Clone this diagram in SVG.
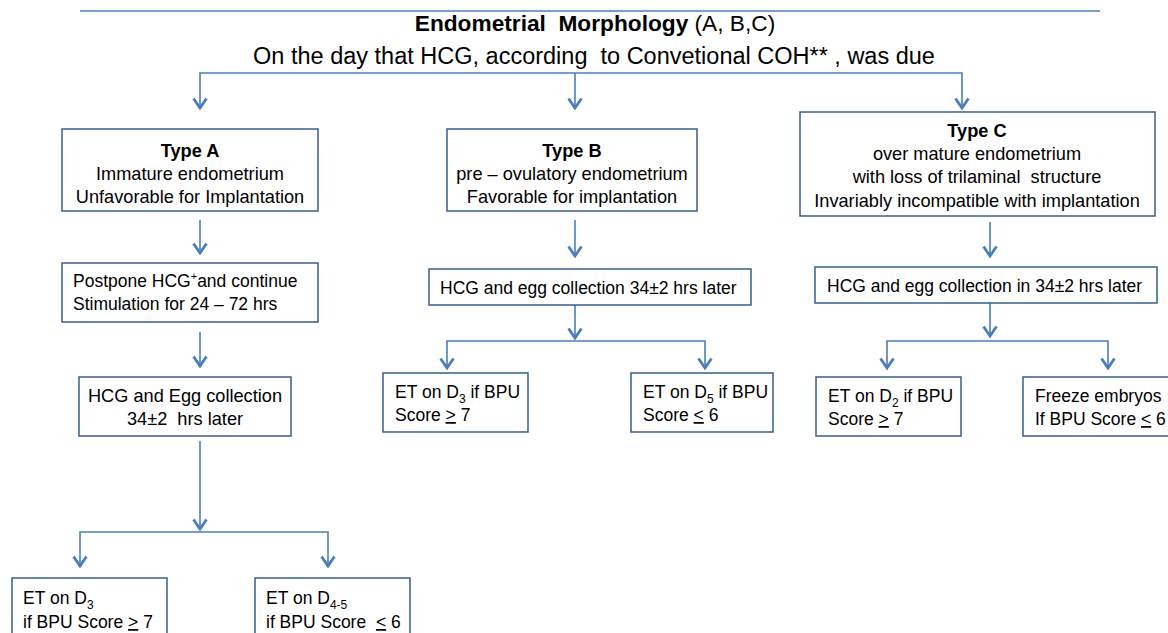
<svg xmlns="http://www.w3.org/2000/svg" width="1168" height="633" viewBox="0 0 1168 633">
<defs>
<style>
.box{fill:#fff;stroke:#385D8A;stroke-width:1.5}
.ln{fill:none;stroke:#4A7EBB;stroke-width:1.6}
.t{font-family:"Liberation Sans",Arial,sans-serif;font-size:17.5px;fill:#000;white-space:pre}
.c{text-anchor:middle;font-size:18.2px}
.b{font-weight:bold}
.h{font-family:"Liberation Sans",Arial,sans-serif;font-size:22.7px;fill:#000;text-anchor:middle;white-space:pre}
.h2{font-size:23.5px}
</style>
<marker id="arr" markerUnits="userSpaceOnUse" viewBox="0 0 13 16" markerWidth="13" markerHeight="16" refX="11" refY="8" orient="auto-start-reverse">
<path d="M1.5,1.5 L11,8 L1.5,14.5" fill="none" stroke="#4A7EBB" stroke-width="2.8"/>
</marker>
</defs>
<rect width="1168" height="633" fill="#fff"/>
<line x1="80" y1="11" x2="1100" y2="11" stroke="#4A7EBB" stroke-width="1.5"/>
<g id="title">
<text class="h" x="595" y="31"><tspan font-weight="bold">Endometrial  Morphology</tspan> (A, B,C)</text>
<text class="h h2" x="594" y="64">On the day that HCG, according  to Convetional COH** , was due</text>
</g>
<g id="connectors">
<path class="ln" d="M200,108 V73 H962 V108" marker-start="url(#arr)" marker-end="url(#arr)"/>
<path class="ln" d="M575,73 V108" marker-end="url(#arr)"/>
<path class="ln" d="M200,220 V253" marker-end="url(#arr)"/>
<path class="ln" d="M200,332 V366" marker-end="url(#arr)"/>
<path class="ln" d="M200,441 V529" marker-end="url(#arr)"/>
<path class="ln" d="M80,566 V532 H328 V566" marker-start="url(#arr)" marker-end="url(#arr)"/>
<path class="ln" d="M575,220 V256" marker-end="url(#arr)"/>
<path class="ln" d="M575,305 V338" marker-end="url(#arr)"/>
<path class="ln" d="M447,368 V341 H705 V368" marker-start="url(#arr)" marker-end="url(#arr)"/>
<path class="ln" d="M990,222 V256" marker-end="url(#arr)"/>
<path class="ln" d="M990,303 V336" marker-end="url(#arr)"/>
<path class="ln" d="M887,368 V341 H1108 V368" marker-start="url(#arr)" marker-end="url(#arr)"/>
</g>
<g id="typeA">
<rect class="box" x="62" y="129" width="256" height="82"/>
<text class="t c b" x="190" y="157">Type A</text>
<text class="t c" x="190" y="180">Immature endometrium</text>
<text class="t c" x="190" y="203">Unfavorable for Implantation</text>
</g>
<g id="typeB">
<rect class="box" x="447" y="129" width="250" height="82"/>
<text class="t c b" x="572" y="157">Type B</text>
<text class="t c" x="572" y="180">pre – ovulatory endometrium</text>
<text class="t c" x="572" y="203">Favorable for implantation</text>
</g>
<g id="typeC">
<rect class="box" x="800" y="112" width="355" height="104"/>
<text class="t c b" x="977" y="137">Type C</text>
<text class="t c" x="977" y="160">over mature endometrium</text>
<text class="t c" x="977" y="183">with loss of trilaminal  structure</text>
<text class="t c" x="977" y="207">Invariably incompatible with implantation</text>
</g>
<g id="postpone">
<rect class="box" x="62" y="263" width="256" height="59"/>
<text class="t" x="73" y="287">Postpone HCG<tspan font-size="11" dy="-7">+</tspan><tspan dy="7">and continue</tspan></text>
<text class="t" x="73" y="310">Stimulation for 24 – 72 hrs</text>
</g>
<g id="eggA">
<rect class="box" x="79" y="377" width="212" height="59"/>
<text class="t c" x="185" y="402">HCG and Egg collection</text>
<text class="t c" x="185" y="425">34±2  hrs later</text>
</g>
<g id="leafA1">
<rect class="box" x="12" y="578" width="155" height="70"/>
<text class="t" x="23" y="604">ET on D<tspan font-size="12" dy="5">3</tspan></text>
<text class="t" x="23" y="628">if BPU Score <tspan text-decoration="underline">&gt;</tspan> 7</text>
</g>
<g id="leafA2">
<rect class="box" x="255" y="578" width="155" height="70"/>
<text class="t" x="266" y="604">ET on D<tspan font-size="12" dy="5">4-5</tspan></text>
<text class="t" x="266" y="628">if BPU Score  <tspan text-decoration="underline">&lt;</tspan> 6</text>
</g>
<g id="eggB">
<rect class="box" x="429" y="269" width="322" height="36"/>
<text class="t" x="440" y="294">HCG and egg collection 34±2 hrs later</text>
</g>
<g id="leafB1">
<rect class="box" x="383" y="373" width="145" height="59"/>
<text class="t" x="395" y="398">ET on D<tspan font-size="12" dy="5">3</tspan><tspan dy="-5"> if BPU</tspan></text>
<text class="t" x="395" y="421">Score <tspan text-decoration="underline">&gt;</tspan> 7</text>
</g>
<g id="leafB2">
<rect class="box" x="631" y="373" width="142" height="59"/>
<text class="t" x="643" y="398">ET on D<tspan font-size="12" dy="5">5</tspan><tspan dy="-5"> if BPU</tspan></text>
<text class="t" x="643" y="421">Score <tspan text-decoration="underline">&lt;</tspan> 6</text>
</g>
<g id="eggC">
<rect class="box" x="815" y="267" width="342" height="36"/>
<text class="t" x="827" y="292">HCG and egg collection in 34±2 hrs later</text>
</g>
<g id="leafC1">
<rect class="box" x="816" y="377" width="145" height="59"/>
<text class="t" x="828" y="402">ET on D<tspan font-size="12" dy="5">2</tspan><tspan dy="-5"> if BPU</tspan></text>
<text class="t" x="828" y="425">Score <tspan text-decoration="underline">&gt;</tspan> 7</text>
</g>
<g id="leafC2">
<rect class="box" x="1023" y="377" width="150" height="59"/>
<text class="t" x="1035" y="402">Freeze embryos</text>
<text class="t" x="1035" y="425">If BPU Score <tspan text-decoration="underline">&lt;</tspan> 6</text>
</g>
</svg>
